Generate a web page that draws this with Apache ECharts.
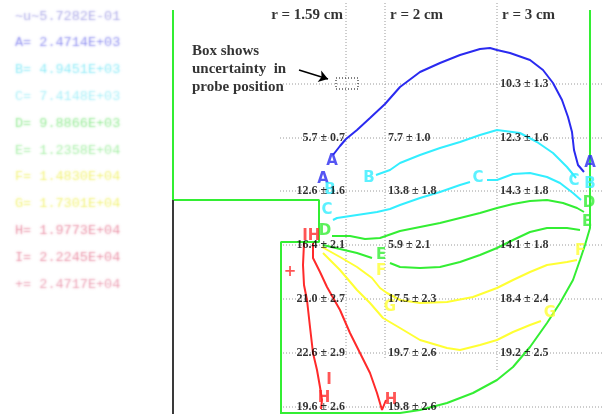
<!DOCTYPE html>
<html>
<head>
<meta charset="utf-8">
<script src="https://cdn.jsdelivr.net/npm/echarts@6/dist/echarts.min.js"></script>
<style>
  html, body { margin: 0; padding: 0; background: #ffffff; }
  #chart { width: 604px; height: 414px; }
</style>
</head>
<body>
<div id="chart"></div>
<script>
// ---- probe grid (drawing units, y grows downward) ----
const probeCols = [346, 385, 497];
const probeRows = [84, 138, 191, 245, 299, 353, 407];
const probeColBottoms = [358, 358, 370];
const colHeaders = ['r = 1.59 cm', 'r = 2 cm', 'r = 3 cm'];

// measured values and uncertainties at each probe position (row x column)
const meanVals = [
  [null, null, 10.3],
  [5.7, 7.7, 12.3],
  [12.6, 13.8, 14.3],
  [16.4, 5.9, 14.1],
  [21.0, 17.5, 18.4],
  [22.6, 19.7, 19.2],
  [19.6, 19.8, null]
];
const errVals = [
  [null, null, 1.3],
  [0.7, 1.0, 1.6],
  [1.6, 1.8, 1.8],
  [2.1, 2.1, 1.8],
  [2.7, 2.3, 2.4],
  [2.9, 2.6, 2.5],
  [2.6, 2.6, null]
];

// contour levels
const levelKeys = ['~u~', 'A= ', 'B= ', 'C= ', 'D= ', 'E= ', 'F= ', 'G= ', 'H= ', 'I= ', '+= '];
const levelVals = [5.7282e-1, 2.4714e3, 4.9451e3, 7.4148e3, 9.8866e3, 1.2358e4, 1.4830e4, 1.7301e4, 1.9773e4, 2.2245e4, 2.4717e4];
const levelColors = [
  'rgba(110,105,215,0.75)', 'rgba(60,60,230,0.75)', 'rgba(40,215,240,0.7)', 'rgba(60,220,240,0.6)',
  'rgba(50,215,50,0.7)', 'rgba(60,220,60,0.6)', 'rgba(235,235,40,0.85)', 'rgba(235,235,40,0.85)',
  'rgba(215,50,90,0.7)', 'rgba(215,50,90,0.7)', 'rgba(215,60,100,0.65)'
];

// contour lines (null splits a line where a letter sits on it)
const contourA = [[333,155],[340,146],[346,139],[357,130],[370,118],[385,104],[400,87],[420,72],[440,63],[460,55],[480,49],[490,48],[497,50],[510,53],[530,60],[543,70],[553,83],[562,100],[568,117],[572,132],[574,150],[578,165],[584,172]];
const contourB = [[376,175],[390,170],[400,163],[420,155],[440,148],[460,142],[480,135],[497,130],[520,133],[537,142],[553,153],[567,167],[576,178]];
const contourC = [[333,220],[337,218],[357,215],[377,212],[390,209],[400,205],[420,198],[440,192],[460,185],[470,182],null,[487,180],[497,180],[513,174],[530,173],[547,177],[560,183],[573,193],[581,200]];
const contourD = [[332,236],[350,236],[365,239],[380,238],[400,231],[420,227],[440,223],[460,218],[480,213],[497,208],[513,204],[530,201],[547,200],[563,203],[577,208],[584,212]];
const contourE = [[323,245],[340,249],[357,253],[372,258],null,[390,263],[400,267],[420,268],[440,267],[460,262],[480,255],[497,248],[513,240],[530,232],[547,228],[567,228],[580,230]];
const contourF = [[322,247],[340,257],[357,267],[372,278],[380,288],[387,293],[400,300],[420,303],[447,302],[473,297],[497,288],[513,280],[530,272],[547,265],[567,262],[577,260]];
const contourG = [[323,253],[340,270],[357,290],[370,303],[383,318],[400,328],[420,340],[447,348],[460,350],[480,345],[497,340],[513,332],[530,325],[541,321]];
const contourH = [[313,243],[313,258],[320,272],[327,287],[340,310],[350,333],[360,353],[370,373],[377,393],[382,410],[386,400]];
const contourI = [[304,243],[303,265],[304,285],[307,300],[310,327],[313,353],[317,370],[320,387],[322,400],[321,409]];

// contour letters: [x, y, letter, level index]
const contourLetters = [
  [332,161,'A',1],[323,179,'A',1],[590,163,'A',1],
  [330,190,'B',2],[369,178,'B',2],[590,184,'B',2],
  [327,210,'C',3],[478,178,'C',3],[574,181,'C',3],
  [325,231,'D',4],[589,203,'D',4],
  [381,255,'E',5],[587,222,'E',5],
  [381,271,'F',6],[580,251,'F',6],
  [390,307,'G',7],[550,313,'G',7],
  [314,236,'H',8],[391,400,'H',8],[324,398,'H',8],
  [305,236,'I',9],[329,380,'I',9],
  [290,272,'+',10]
];

// vessel walls
const wallLeft = [[173,10],[173,200],[319,200],[319,242],[281,242],[281,414]];
const wallRight = [[590,10],[590,228],[585,245],[580,260],[573,280],[560,303],[547,323],[530,347],[513,367],[497,380],[473,393],[447,403],[420,410],[400,413],[281,413]];
const symmetryAxis = [[173,200],[173,414]];

// probe position uncertainty box and its pointer
const probeBox = [[336,78],[358,78],[358,89],[336,89],[336,78]];
const pointer = [[299,70],[328,79]];
const noteLines = ['Box shows', 'uncertainty  in', 'probe position'];

// ---- build series ----
const series = [];

function lineSeries(data, color, width, type, z) {
  return {
    type: 'line', data: data, symbol: 'none', silent: true, animation: false,
    connectNulls: false, z: z || 2,
    lineStyle: { color: color, width: width, type: type || 'solid' }
  };
}

// dotted grid
probeRows.forEach(y => series.push(lineSeries([[280, y], [604, y]], '#9a9a9a', 1, [1, 2], 1)));
probeCols.forEach((x, i) => series.push(lineSeries([[x, 3], [x, probeColBottoms[i]]], '#9a9a9a', 1, [1, 2], 1)));

// walls
series.push(lineSeries(wallLeft, '#33ee33', 2, 'solid', 3));
series.push(lineSeries(wallRight, '#33ee33', 2, 'solid', 3));
series.push(lineSeries(symmetryAxis, '#3a3a3a', 2, 'solid', 3));

// contours
const contours = [contourA, contourB, contourC, contourD, contourE, contourF, contourG, contourH, contourI];
const contourColors = ['#2a2af0', '#33eeff', '#33eeff', '#33ee33', '#33ee33', '#ffff33', '#ffff33', '#ff2a2a', '#ff2a2a'];
contours.forEach((c, i) => {
  series.push(lineSeries(c.map(p => p === null ? ['-', '-'] : p), contourColors[i], 2, 'solid', 4));
});

// probe box
series.push(lineSeries(probeBox, '#000000', 1, [1, 2], 5));

// pointer arrow
series.push({
  type: 'lines', coordinateSystem: 'cartesian2d', silent: true, animation: false, z: 6,
  symbol: ['none', 'arrow'], symbolSize: 9,
  lineStyle: { color: '#000000', width: 1.5, opacity: 1 },
  data: [{ coords: pointer }]
});

function textSeries(data, labelOpt, z) {
  return {
    type: 'scatter', data: data, symbolSize: 1, silent: true, animation: false, z: z || 7,
    itemStyle: { color: 'rgba(0,0,0,0)' },
    label: Object.assign({ show: true, position: 'inside', verticalAlign: 'middle' }, labelOpt)
  };
}

const serif = '"Liberation Serif", "Times New Roman", serif';

// contour letters
series.push(textSeries(
  contourLetters.map(d => ({ value: [d[0], d[1]], name: d[2], label: { color: contourColors[Math.min(d[3] - 1, 8)] } })),
  { formatter: p => p.name, align: 'center', fontFamily: '"DejaVu Sans", sans-serif', fontWeight: 'bold', fontSize: 15 }, 8));

// probe values
const valueData = [];
meanVals.forEach((row, r) => row.forEach((m, c) => {
  if (m === null) return;
  valueData.push({
    value: [probeCols[c], probeRows[r]],
    name: m.toFixed(1) + ' \u00b1 ' + errVals[r][c].toFixed(1),
    label: c === 0 ? { align: 'right', offset: [-1, 0] } : { align: 'left', offset: [3, 0] }
  });
}));
series.push(textSeries(valueData,
  { formatter: p => p.name, color: '#000', fontFamily: serif, fontWeight: 'bold', fontSize: 12 }, 9));

// column headers
series.push(textSeries(
  colHeaders.map((t, i) => ({
    value: [probeCols[i], 15], name: t,
    label: i === 0 ? { align: 'right', offset: [-3, 0] } : { align: 'left', offset: [5, 0] }
  })),
  { formatter: p => p.name, color: '#000', fontFamily: serif, fontWeight: 'bold', fontSize: 15 }, 9));

// note about the box
series.push(textSeries(
  noteLines.map((t, i) => ({ value: [192, 51 + i * 18], name: t })),
  { formatter: p => p.name, align: 'left', color: '#000', fontFamily: serif, fontWeight: 'bold', fontSize: 15 }, 9));

// level list, printed soft: only the blurred shadow of each line lands on the page
const SHIFT = 2000;
function fmtLevel(v) {
  return v.toExponential(4).toUpperCase().replace(/E([+-])(\d)$/, 'E$10$2');
}
series.push(textSeries(
  levelVals.map((v, i) => ({
    value: [15, 16 + i * 26.8], name: levelKeys[i] + fmtLevel(v),
    label: { textShadowColor: levelColors[i] }
  })),
  { formatter: p => p.name, align: 'left', fontFamily: '"Liberation Mono", monospace', fontSize: 13.5,
    color: '#000', offset: [-SHIFT, 0], textShadowOffsetX: SHIFT, textShadowOffsetY: 0, textShadowBlur: 2.2 }, 9));

const chart = echarts.init(document.getElementById('chart'), null, { renderer: 'canvas' });
chart.setOption({
  backgroundColor: '#ffffff',
  animation: false,
  grid: { left: 0, right: 0, top: 0, bottom: 0 },
  xAxis: { type: 'value', min: 0, max: 604, show: false },
  yAxis: { type: 'value', min: 0, max: 414, inverse: true, show: false },
  series: series
});
</script>
</body>
</html>
